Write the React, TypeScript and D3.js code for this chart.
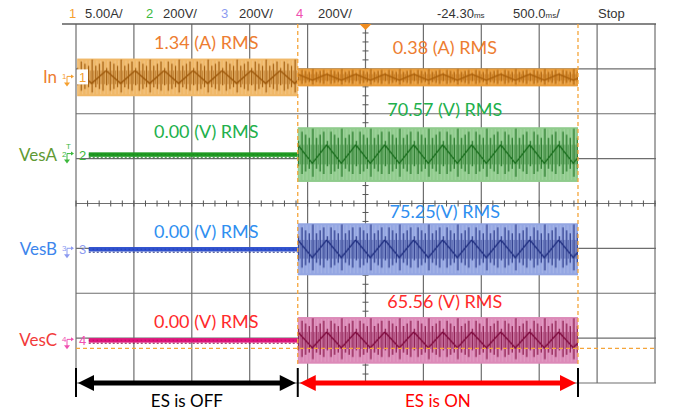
import React, { useRef, useEffect } from 'react';
import * as d3 from 'd3';

const width = 674;
const height = 415;

// scope screen: 10 x 8 divisions
const xDomain = [-5, 5];
const yDomain = [-4, 4];
const gridX = d3.range(-5, 6, 1);
const gridY = d3.range(-4, 5, 1);

// header readout
const headerIds = ['1', '2', '3', '4'];
const headerScales = ['5.00A/', '200V/', '200V/', '200V/'];
const headerDelay = '-24.30';
const headerTimebase = '500.0';
const headerState = 'Stop';

// channels (offsets and envelopes in divisions)
const channelNames = ['In', 'VesA', 'VesB', 'VesC'];
const channelOffsets = [2.81, 1.09, -1.02, -3.05];
const traceStarts = [-4.98, -4.78, -4.78, -4.78];
const halfWidthOff = [0.42, 0.05, 0.05, 0.05];
const halfWidthOn = [0.2, 0.61, 0.58, 0.52];

// RMS annotations
const rmsOffLabels = ['1.34 (A) RMS', '0.00 (V) RMS', '0.00 (V) RMS', '0.00 (V) RMS'];
const rmsOnLabels = ['0.38 (A) RMS', '70.57 (V) RMS', '75.25(V) RMS', '65.56 (V) RMS'];
const rmsOffY = [3.59, 1.6, -0.62, -2.63];
const rmsOnY = [3.47, 2.09, -0.18, -2.18];
const rmsOffX = -2.75;
const rmsOnX = 1.37;

// events (divisions)
const esOnTime = -1.17;
const esEndTime = 3.67;
const cursorLevel = -3.23;
const triggerTime = 0;
const phaseLabels = ['ES is OFF', 'ES is ON'];

const labelColors = ['#ed7d31', '#5f9a34', '#3d85ec', '#f23a3a'];
const rmsColors = ['#ed7d31', '#21b04b', '#2f8ff0', '#ff2a2a'];
const markerColors = ['#f5a030', '#3cb83c', '#8c9af0', '#f050b0'];
const traceLight = ['#f0b868', '#8fcb8c', '#94a6e2', '#dc8ab8'];
const traceDark = ['#9a5406', '#146a18', '#1c2b7e', '#7c063a'];
const zeroColors = ['#e08a18', '#1f9a22', '#3152cf', '#e0157c'];

const App: React.FC = () => {
    const svgRef = useRef<SVGSVGElement | null>(null);

    useEffect(() => {
        document.body.style.margin = '0';
        if (!svgRef.current) return;
        const svg = d3.select(svgRef.current);
        svg.selectAll('*').remove();

        const x = d3.scaleLinear().domain(xDomain).range([76, 655]);
        const y = d3.scaleLinear().domain(yDomain).range([383, 24]);
        const font = 'Lato, "Open Sans", sans-serif';
        const narrow = '"Liberation Sans Narrow", "Liberation Sans", sans-serif';

        svg.append('rect').attr('width', width).attr('height', height).attr('fill', 'white');
        const defs = svg.append('defs');

        // Grid
        svg.append('g').selectAll('line').data(gridX).join('line')
            .attr('x1', d => x(d)).attr('x2', d => x(d))
            .attr('y1', y(4)).attr('y2', y(-4))
            .attr('stroke', '#6e6e6e').attr('stroke-width', 1.2);
        svg.append('g').selectAll('line').data(gridY).join('line')
            .attr('x1', d => (d === 4 ? 62 : x(-5))).attr('x2', x(5) + 1)
            .attr('y1', d => y(d)).attr('y2', d => y(d))
            .attr('stroke', d => (d === 4 ? '#5e5e5e' : '#6e6e6e'))
            .attr('stroke-width', d => (d === 4 ? 1.6 : 1.2));

        // Center minor ticks
        const minorX = d3.range(-5, 5.001, 0.2);
        const minorY = d3.range(-4, 4.001, 0.2);
        svg.append('g').selectAll('line').data(minorX).join('line')
            .attr('x1', d => x(d)).attr('x2', d => x(d))
            .attr('y1', y(0) - 3).attr('y2', y(0) + 3)
            .attr('stroke', '#555').attr('stroke-width', 1);
        svg.append('g').selectAll('line').data(minorY).join('line')
            .attr('x1', x(triggerTime) - 3).attr('x2', x(triggerTime) + 3)
            .attr('y1', d => y(d)).attr('y2', d => y(d))
            .attr('stroke', '#555').attr('stroke-width', 1);

        // Texture pattern for oscillating traces
        const makePattern = (id: string, x0: number, yTop: number, h: number, light: string, dark: string) => {
            const P = 29;
            const n = 8;
            const step = P / n;
            const p = defs.append('pattern').attr('id', id).attr('patternUnits', 'userSpaceOnUse')
                .attr('x', x0).attr('y', yTop).attr('width', P).attr('height', h);
            p.append('rect').attr('width', P).attr('height', h).attr('fill', light);
            d3.range(n).forEach(i => {
                p.append('line')
                    .attr('x1', i * step + step / 2).attr('x2', i * step + step / 2)
                    .attr('y1', 2).attr('y2', h - 2)
                    .attr('stroke', 'white').attr('stroke-opacity', 0.25).attr('stroke-width', 0.8);
                const tri = 1 - Math.abs((i / n) * 2 - 1);
                const k = i % 2 === 0 ? tri : 1 - tri;
                const half = (h / 2) * (0.5 + 0.45 * k);
                p.append('line')
                    .attr('x1', i * step + 0.6).attr('x2', i * step + 0.6)
                    .attr('y1', h / 2 - half).attr('y2', h / 2 + half * 0.85)
                    .attr('stroke', dark).attr('stroke-width', 1.1);
                p.append('line')
                    .attr('x1', i * step + 2.3).attr('x2', i * step + 2.3)
                    .attr('y1', h / 2 - h * 0.18).attr('y2', h / 2 + h * 0.18)
                    .attr('stroke', dark).attr('stroke-opacity', 0.7).attr('stroke-width', 0.8);
            });
            p.append('polyline')
                .attr('points', `0,${h * 0.32} ${P / 2},${h * 0.66} ${P},${h * 0.32}`)
                .attr('fill', 'none').attr('stroke', dark).attr('stroke-width', 1.3);
        };

        const traces = svg.append('g');
        channelNames.forEach((_, i) => {
            const cy = y(channelOffsets[i]);
            const x0 = x(traceStarts[i]);
            const x1 = x(esOnTime);
            const x2 = x(esEndTime);
            // ES off segment
            const hOff = y(0) - y(halfWidthOff[i]);
            if (i === 0) {
                makePattern(`off-${i}`, x0, cy - hOff, hOff * 2, traceLight[i], traceDark[i]);
                traces.append('rect').attr('x', x0).attr('y', cy - hOff)
                    .attr('width', x1 - x0).attr('height', hOff * 2)
                    .attr('fill', `url(#off-${i})`);
            } else {
                traces.append('rect').attr('x', x0).attr('y', cy - hOff)
                    .attr('width', x1 - x0).attr('height', hOff * 2)
                    .attr('fill', zeroColors[i]);
                traces.append('line').attr('x1', x0).attr('x2', x1)
                    .attr('y1', cy + hOff + 0.8).attr('y2', cy + hOff + 0.8)
                    .attr('stroke', traceDark[i]).attr('stroke-width', 1.2)
                    .attr('stroke-dasharray', '2,2').attr('opacity', 0.7);
                traces.append('line').attr('x1', x0).attr('x2', x1)
                    .attr('y1', cy).attr('y2', cy)
                    .attr('stroke', traceDark[i]).attr('stroke-width', 0.8)
                    .attr('stroke-dasharray', '1,3').attr('opacity', 0.6);
            }
            // ES on segment
            const hOn = y(0) - y(halfWidthOn[i]);
            makePattern(`on-${i}`, x1, cy - hOn, hOn * 2, i === 0 ? '#e89c3a' : traceLight[i], i === 0 ? '#a85c06' : traceDark[i]);
            traces.append('rect').attr('x', x1).attr('y', cy - hOn)
                .attr('width', x2 - x1).attr('height', hOn * 2)
                .attr('fill', `url(#on-${i})`);
        });

        // Cursors
        const orange = '#f5a53a';
        [esOnTime, esEndTime].forEach(t => {
            svg.append('line').attr('x1', x(t)).attr('x2', x(t))
                .attr('y1', y(4)).attr('y2', y(-4) - 18)
                .attr('stroke', orange).attr('stroke-width', 1.3).attr('stroke-dasharray', '4,3');
        });
        svg.append('line').attr('x1', x(-5)).attr('x2', x(5))
            .attr('y1', y(cursorLevel)).attr('y2', y(cursorLevel))
            .attr('stroke', orange).attr('stroke-width', 1.3).attr('stroke-dasharray', '4,3');

        // Trigger position marker
        const tx = x(triggerTime);
        svg.append('path')
            .attr('d', `M${tx - 6},${y(4)} L${tx + 6},${y(4)} L${tx},${y(4) + 6} Z`)
            .attr('fill', '#f08c1e');

        // Header
        const header = svg.append('g').attr('font-family', narrow).attr('font-size', 13);
        const headerX = [69, 146, 221, 296];
        const valueX = [85, 163, 239, 318];
        headerIds.forEach((id, i) => {
            header.append('text').attr('x', headerX[i]).attr('y', 18).attr('fill', markerColors[i]).text(id);
            header.append('text').attr('x', valueX[i]).attr('y', 18).attr('fill', '#333').text(headerScales[i]);
        });
        const delay = header.append('text').attr('x', 437).attr('y', 18).attr('fill', '#333');
        delay.append('tspan').text(headerDelay);
        delay.append('tspan').attr('font-size', 8).text('ms');
        const tb = header.append('text').attr('x', 513).attr('y', 18).attr('fill', '#333');
        tb.append('tspan').text(headerTimebase);
        tb.append('tspan').attr('font-size', 8).text('ms');
        tb.append('tspan').text('/');
        header.append('text').attr('x', 598).attr('y', 18).attr('fill', '#333').text(headerState);

        // Channel labels and ground markers
        channelNames.forEach((name, i) => {
            const cy = y(channelOffsets[i]);
            svg.append('text').attr('x', 57).attr('y', cy + 6)
                .attr('text-anchor', 'end').attr('font-family', font).attr('font-size', 17)
                .attr('fill', labelColors[i]).text(name);
            const g = svg.append('g').attr('fill', markerColors[i]).attr('stroke', markerColors[i]);
            g.append('text').attr('x', 62).attr('y', cy + 2).attr('stroke', 'none')
                .attr('font-family', narrow).attr('font-size', 8).text(headerIds[i]);
            g.append('line').attr('x1', 67).attr('x2', 73).attr('y1', cy - 1).attr('y2', cy - 1).attr('stroke-width', 1);
            g.append('path').attr('d', `M71,${cy - 3} L74,${cy - 1} L71,${cy + 1} Z`).attr('stroke', 'none');
            g.append('line').attr('x1', 67).attr('x2', 67).attr('y1', cy - 1).attr('y2', cy + 6).attr('stroke-width', 1);
            g.append('path').attr('d', `M64,${cy + 5} L70,${cy + 5} L67,${cy + 9} Z`).attr('stroke', 'none');
            if (i === 0) {
                svg.append('rect').attr('x', 77).attr('y', cy - 8).attr('width', 11).attr('height', 15).attr('fill', 'white');
            }
            svg.append('text').attr('x', 79).attr('y', cy + 5)
                .attr('font-family', narrow).attr('font-size', 13)
                .attr('fill', markerColors[i]).text(headerIds[i]);
            if (i === 1) {
                svg.append('text').attr('x', 66).attr('y', cy - 6)
                    .attr('font-family', narrow).attr('font-size', 8)
                    .attr('fill', markerColors[i]).text('T');
            }
        });

        // RMS annotations
        const ann = svg.append('g').attr('font-family', font).attr('font-size', 18).attr('text-anchor', 'middle');
        channelNames.forEach((_, i) => {
            ann.append('text').attr('x', x(rmsOffX)).attr('y', y(rmsOffY[i]) + 6.5)
                .attr('fill', rmsColors[i]).text(rmsOffLabels[i]);
            ann.append('text').attr('x', x(rmsOnX)).attr('y', y(rmsOnY[i]) + 6.5)
                .attr('fill', rmsColors[i]).text(rmsOnLabels[i]);
        });

        // Phase arrows
        const ay = y(-4);
        const phases = [
            { from: -5, to: esOnTime, color: '#000000', label: phaseLabels[0] },
            { from: esOnTime, to: esEndTime, color: '#ff0000', label: phaseLabels[1] },
        ];
        phases.forEach(ph => {
            const a = x(ph.from) + 2;
            const b = x(ph.to) - 2;
            svg.append('line').attr('x1', a + 12).attr('x2', b - 12).attr('y1', ay).attr('y2', ay)
                .attr('stroke', ph.color).attr('stroke-width', 5);
            svg.append('path').attr('d', `M${a},${ay} L${a + 16},${ay - 8} L${a + 16},${ay + 8} Z`).attr('fill', ph.color);
            svg.append('path').attr('d', `M${b},${ay} L${b - 16},${ay - 8} L${b - 16},${ay + 8} Z`).attr('fill', ph.color);
            svg.append('text').attr('x', (x(ph.from) + x(ph.to)) / 2).attr('y', 407)
                .attr('text-anchor', 'middle').attr('font-family', font).attr('font-size', 17)
                .attr('fill', ph.color).text(ph.label);
        });
        [-5, esOnTime, esEndTime].forEach(t => {
            svg.append('line').attr('x1', x(t)).attr('x2', x(t)).attr('y1', ay - 15).attr('y2', ay + 14)
                .attr('stroke', '#000').attr('stroke-width', 2);
        });
    }, []);

    return <svg ref={svgRef} width={width} height={height} style={{ display: 'block' }}></svg>;
};

export default App;
